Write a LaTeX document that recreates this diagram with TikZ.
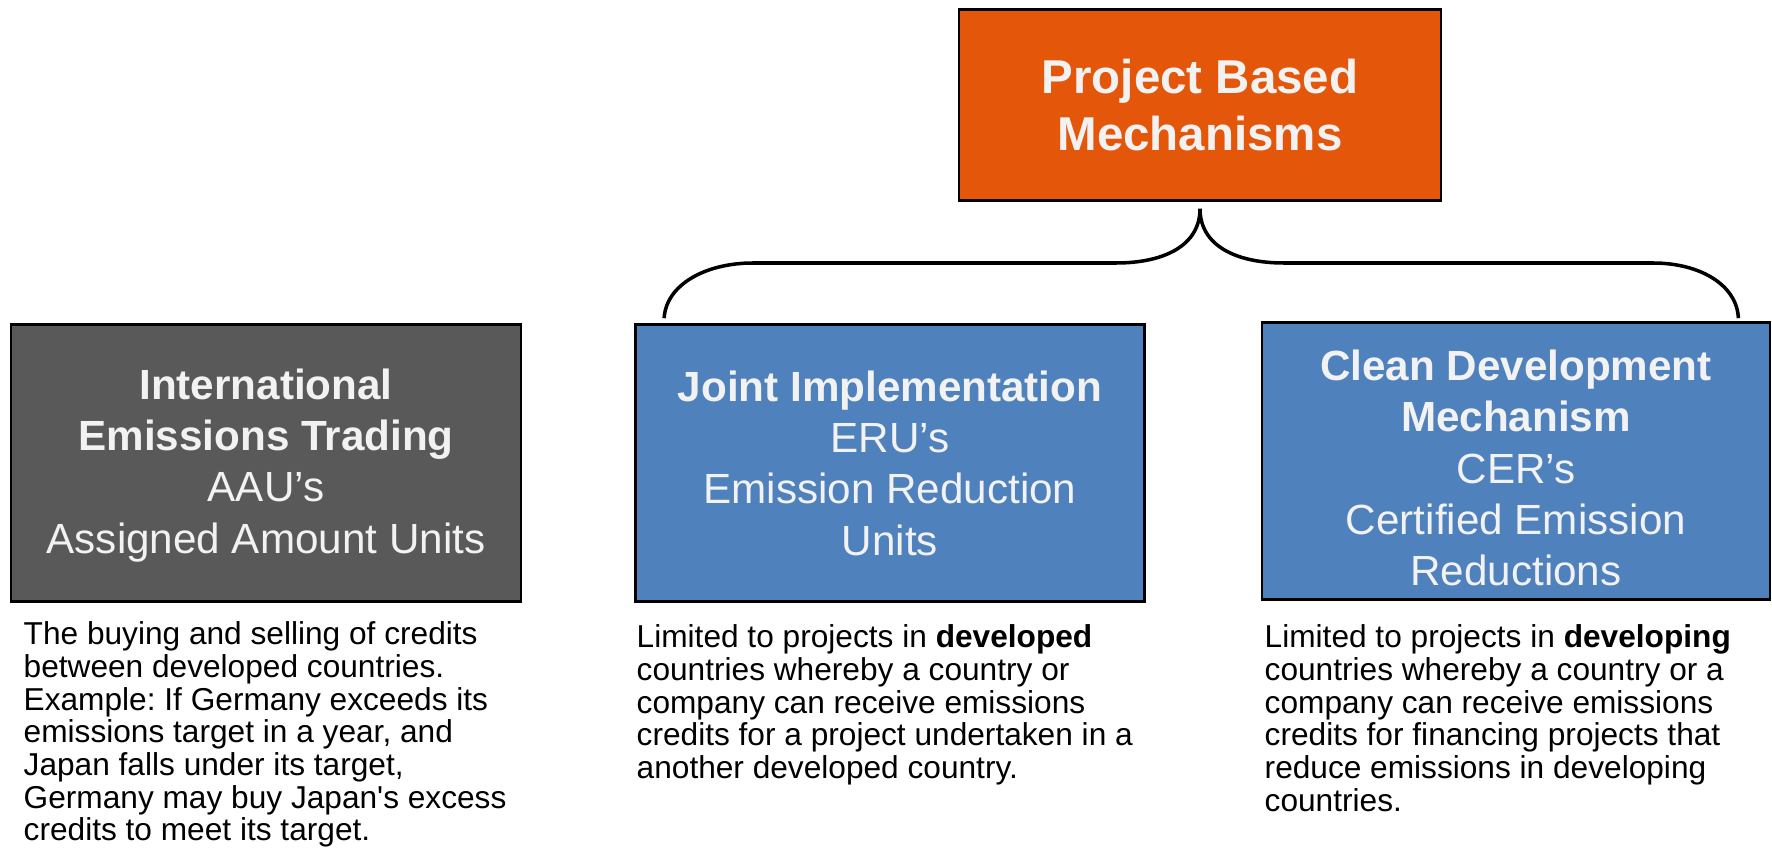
\documentclass[tikz,border=0pt]{standalone}
\usepackage{fontspec}
\newfontfamily\arialfont{Liberation Sans}
\definecolor{pbmorange}{RGB}{228,87,11}
\definecolor{ietgray}{RGB}{89,89,89}
\definecolor{mechblue}{RGB}{79,129,189}
\definecolor{boxtext}{RGB}{242,242,242}
\frenchspacing
\begin{document}
\begin{tikzpicture}[
        x=0.01cm, y=-0.01cm,
        mech/.style={draw=black,line width=0.7pt,text=boxtext,align=center,inner sep=0pt,
            minimum width=5.09cm,minimum height=2.77cm,font=\arialfont\fontsize{12}{14.6}\selectfont},
        top/.style={mech,fill=pbmorange,minimum width=4.82cm,minimum height=1.91cm,
            font=\arialfont\bfseries\fontsize{13.5}{16}\selectfont},
        note/.style={anchor=north west,align=left,inner sep=0pt,
            font=\arialfont\fontsize{9}{9.3}\selectfont},
        brace/.style={draw,line width=1pt},
        ]
    \useasboundingbox (0,0) rectangle (1772,867);
    % boxes
    \node (pbm) [top] at (1200,105) {Project Based\\Mechanisms};
    \node (iet) [mech,fill=ietgray,minimum width=5.10cm] at (266,463)
        {\rule{0pt}{10pt}\textbf{International}\\\textbf{Emissions Trading}\\AAU’s\\Assigned Amount Units};
    \node (ji) [mech,fill=mechblue] at (890,463)
        {\textbf{Joint Implementation}\\ERU’s\\Emission Reduction\\Units};
    \node (cdm) [mech,fill=mechblue,minimum width=5.08cm] at (1516,461)
        {\rule{0pt}{12.8pt}\textbf{Clean Development}\\\textbf{Mechanism}\\CER’s\\Certified Emission\\Reductions};
    % notes under the boxes
    \node (ietnote) [note] at (23,621) {The buying and selling of credits\\
        between developed countries.\\
        Example: If Germany exceeds its\\
        emissions target in a year, and\\
        Japan falls under its target,\\
        Germany may buy Japan's excess\\
        credits to meet its target.};
    \node (jinote) [note] at (636,624) {Limited to projects in \textbf{developed}\\
        countries whereby a country or\\
        company can receive emissions\\
        credits for a project undertaken in a\\
        another developed country.};
    \node (cdmnote) [note] at (1264,624) {Limited to projects in \textbf{developing}\\
        countries whereby a country or a\\
        company can receive emissions\\
        credits for financing projects that\\
        reduce emissions in developing\\
        countries.};
    % brace
    \coordinate (tip) at ([yshift=-0.07cm]pbm.south);
    \coordinate (jiend) at ([xshift=0.30cm,yshift=0.05cm]ji.north west);
    \coordinate (cdmend) at ([xshift=-0.33cm,yshift=0.03cm]cdm.north east);
    \draw[brace] (jiend) .. controls (666,285) and (705,263) .. (753,263) -- (1116,263)
        .. controls (1165,263) and (1200,245) .. (tip)
        .. controls (1200,245) and (1235,263) .. (1284,263) -- (1653,263)
        .. controls (1700,263) and (1737,285) .. (cdmend);
\end{tikzpicture}
\end{document}
